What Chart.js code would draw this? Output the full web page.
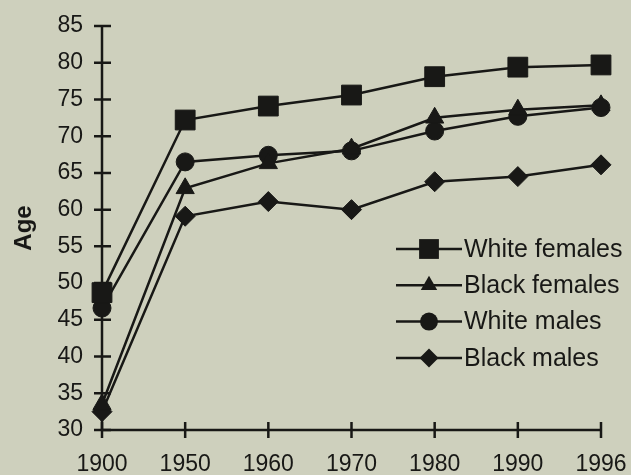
<!DOCTYPE html>
<html>
<head>
<meta charset="utf-8">
<script src="https://cdn.jsdelivr.net/npm/chart.js@4.4.0/dist/chart.umd.min.js"></script>
<style>
  html, body { margin: 0; padding: 0; background: #ced0bd; }
  #wrap { width: 631px; height: 475px; position: relative; }
</style>
</head>
<body>
<div id="wrap"><canvas id="c" width="631" height="475"></canvas></div>
<script>
const years = ['1900', '1950', '1960', '1970', '1980', '1990', '1996'];
const whiteFemales = [48.7, 72.2, 74.1, 75.6, 78.1, 79.4, 79.7];
const blackFemales = [33.5, 62.9, 66.3, 68.3, 72.5, 73.6, 74.2];
const whiteMales   = [46.6, 66.5, 67.4, 68.0, 70.7, 72.7, 73.9];
const blackMales   = [32.5, 59.1, 61.1, 60.0, 63.8, 64.5, 66.1];
const seriesNames  = ['White females', 'Black females', 'White males', 'Black males'];
const yTicks = [30, 35, 40, 45, 50, 55, 60, 65, 70, 75, 80, 85];

const INK = '#181816';
const FONT = "'Liberation Sans', Arial, sans-serif";

function mkDs(label, data, style, r) {
  return {
    label, data,
    borderColor: INK, backgroundColor: INK,
    borderWidth: 2.5,
    pointStyle: style, pointRadius: r, pointHoverRadius: r,
    pointBackgroundColor: INK, pointBorderColor: INK, pointBorderWidth: 1,
    tension: 0, fill: false
  };
}

function drawMarker(ctx, style, r, x, y) {
  ctx.save();
  ctx.fillStyle = INK;
  ctx.beginPath();
  if (style === 'rect') {
    const s = r * Math.SQRT1_2;
    ctx.rect(x - s, y - s, 2 * s, 2 * s);
  } else if (style === 'triangle') {
    const a = -Math.PI / 2;
    for (let k = 0; k < 3; k++) {
      const ang = a + k * 2 * Math.PI / 3;
      const px = x + Math.cos(ang) * r, py = y + Math.sin(ang) * r;
      if (k === 0) ctx.moveTo(px, py); else ctx.lineTo(px, py);
    }
    ctx.closePath();
  } else if (style === 'circle') {
    ctx.arc(x, y, r, 0, Math.PI * 2);
  } else if (style === 'rectRot') {
    ctx.moveTo(x, y - r); ctx.lineTo(x + r, y); ctx.lineTo(x, y + r); ctx.lineTo(x - r, y); ctx.closePath();
  }
  ctx.fill();
  ctx.restore();
}

const axesPlugin = {
  id: 'axesCross',
  beforeDatasetsDraw(chart) {
    const { ctx, chartArea: a, scales } = chart;
    ctx.save();
    ctx.strokeStyle = INK;
    ctx.lineWidth = 2.5;
    ctx.lineCap = 'butt';
    ctx.beginPath();
    ctx.moveTo(a.left, a.top); ctx.lineTo(a.left, a.bottom);
    ctx.moveTo(a.left, a.bottom); ctx.lineTo(a.right, a.bottom);
    ctx.stroke();
    ctx.beginPath();
    scales.y.ticks.forEach((t, i) => {
      const py = scales.y.getPixelForTick(i);
      ctx.moveTo(a.left - 8, py); ctx.lineTo(a.left + 9, py);
    });
    scales.x.ticks.forEach((t, i) => {
      const px = scales.x.getPixelForTick(i);
      ctx.moveTo(px, a.bottom - 8); ctx.lineTo(px, a.bottom + 8);
    });
    ctx.stroke();
    ctx.restore();
  }
};

const legendPlugin = {
  id: 'lineLegend',
  afterDatasetsDraw(chart) {
    const { ctx, chartArea: a } = chart;
    const x0 = a.right - 205, x1 = a.right - 139, xm = a.right - 172, xt = a.right - 137;
    const y0 = a.top + 223, dy = 36.3;
    ctx.save();
    ctx.font = '25px ' + FONT;
    ctx.textBaseline = 'middle';
    ctx.fillStyle = INK;
    chart.data.datasets.forEach((ds, i) => {
      const y = y0 + i * dy;
      ctx.strokeStyle = INK; ctx.lineWidth = 2.5;
      ctx.beginPath(); ctx.moveTo(x0, y); ctx.lineTo(x1, y); ctx.stroke();
      const r = ds.pointStyle === 'rect' ? 14 : (ds.pointStyle === 'circle' ? 9 : (ds.pointStyle === 'triangle' ? 9.5 : 9.5));
      drawMarker(ctx, ds.pointStyle, r, xm, y);
      ctx.fillText(ds.label, xt, y + 1);
    });
    ctx.restore();
  }
};

new Chart(document.getElementById('c'), {
  type: 'line',
  data: {
    labels: years,
    datasets: [
      mkDs(seriesNames[0], whiteFemales, 'rect', 14),
      mkDs(seriesNames[1], blackFemales, 'triangle', 10.5),
      mkDs(seriesNames[2], whiteMales, 'circle', 9),
      mkDs(seriesNames[3], blackMales, 'rectRot', 10)
    ]
  },
  options: {
    responsive: false,
    animation: false,
    devicePixelRatio: 1,
    layout: { padding: { left: 10, right: 0, top: 0, bottom: 0 } },
    plugins: { legend: { display: false }, tooltip: { enabled: false } },
    scales: {
      x: {
        type: 'category',
        offset: false,
        grid: { display: false, drawTicks: false },
        border: { display: false },
        ticks: { color: INK, font: { family: FONT, size: 23 }, padding: 21, maxRotation: 0, autoSkip: false },
        afterFit(s) { s.height = 45; s.paddingRight = 30; s.paddingLeft = 0; }
      },
      y: {
        min: 30, max: 85,
        afterBuildTicks(s) { s.ticks = yTicks.map(v => ({ value: v })); },
        grid: { display: false, drawTicks: false },
        border: { display: false },
        ticks: { color: INK, font: { family: FONT, size: 23 }, padding: 19 },
        title: { display: true, text: 'Age', color: INK, font: { family: FONT, size: 24, weight: 'bold' }, padding: { top: 0, bottom: 0 } },
        afterFit(s) { s.width = 92; s.paddingTop = 26; s.paddingBottom = 0; }
      }
    }
  },
  plugins: [axesPlugin, legendPlugin]
});
</script>
</body>
</html>
